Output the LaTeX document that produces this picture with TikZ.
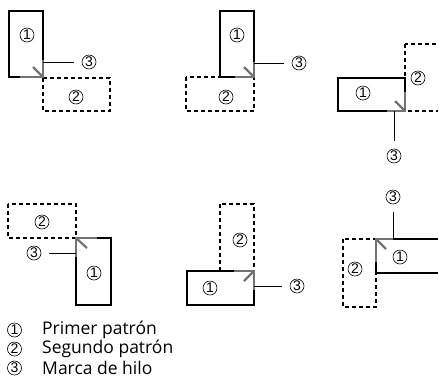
\documentclass[tikz,border=0pt]{standalone}
\usepackage{fontspec}
\setmainfont{Open Sans}
\newfontfamily\numfont{Liberation Sans}
\begin{document}
\begin{tikzpicture}[x=1pt,y=-1pt,
  solidbox/.style={draw=black,line width=1.1pt},
  dashbox/.style={draw=black,line width=1.1pt,dash pattern=on 4pt off 3pt},
  graymark/.style={draw=black!55,line width=2.2pt},
  num/.style={circle,draw=black,line width=0.6pt,minimum size=14pt,inner sep=0pt,font=\numfont\fontsize{14}{14}\selectfont},
  thread/.style={draw=black,line width=0.8pt,shorten >=8pt},
  legtext/.style={anchor=west,inner sep=0pt,font=\fontsize{17.5}{17.5}\selectfont}]
\useasboundingbox (0,0) rectangle (438,389);
\begin{scope}
\clip (0,0) rectangle (438,389);
% ---------- panel 1 ----------
\draw[dashbox] (43,78) rectangle (110,111);
\draw[solidbox] (9,11) rectangle (43,77);
\draw[graymark] (20,77) -- (43,77) -- (43,60);
\draw[graymark] (33,67) -- (43,77);
\node[num] (a1) at (27,35) {1};
\node[num] (a2) at (76,97) {2};
\node[num] (a3) at (89,62) {3};
\coordinate (pa) at (43,62);
\draw[thread] (pa) -- (a3);
% ---------- panel 2 ----------
\draw[dashbox] (186,77) rectangle (254,111);
\draw[solidbox] (220,11) rectangle (254,77);
\draw[graymark] (235,77) -- (254,77) -- (254,62);
\draw[graymark] (244,67) -- (254,77);
\node[num] (b1) at (237,35) {1};
\node[num] (b2) at (226,97) {2};
\node[num] (b3) at (299,63) {3};
\coordinate (pb) at (254,63);
\draw[thread] (pb) -- (b3);
% ---------- panel 3 ----------
\draw[dashbox] (405,44) rectangle (448,111);
\draw[solidbox] (338,78) rectangle (405,111);
\draw[graymark] (387,111) -- (405,111) -- (405,92);
\draw[graymark] (395,101) -- (405,111);
\node[num] (c1) at (363,93) {1};
\node[num] (c2) at (418,78) {2};
\node[num] (c3) at (394,156) {3};
\coordinate (pc) at (394,111);
\draw[thread] (pc) -- (c3);
% ---------- panel 4 ----------
\draw[dashbox] (8,204) rectangle (76,238);
\draw[solidbox] (76,238) rectangle (111,305);
\draw[graymark] (97,238) -- (76,238) -- (76,257);
\draw[graymark] (87,248) -- (76,238);
\node[num] (d1) at (94,273) {1};
\node[num] (d2) at (42,222) {2};
\node[num] (d3) at (34,253) {3};
\coordinate (pd) at (76,253);
\draw[thread] (pd) -- (d3);
% ---------- panel 5 ----------
\draw[dashbox] (220,204) rectangle (254,271);
\draw[solidbox] (187,271) rectangle (254,305);
\draw[graymark] (234,271) -- (254,271) -- (254,290);
\draw[graymark] (244,281) -- (254,271);
\node[num] (e1) at (210,288) {1};
\node[num] (e2) at (240,240) {2};
\node[num] (e3) at (297,286) {3};
\coordinate (pe) at (254,286);
\draw[thread] (pe) -- (e3);
% ---------- panel 6 ----------
\draw[dashbox] (343,239) rectangle (376,307);
\draw[solidbox] (376,239) rectangle (448,273);
\draw[graymark] (393,239) -- (376,239) -- (376,262);
\draw[graymark] (386,249) -- (376,239);
\node[num] (f1) at (400,257) {1};
\node[num] (f2) at (355,269) {2};
\node[num] (f3) at (393,197) {3};
\coordinate (pf) at (393,239);
\draw[thread] (pf) -- (f3);
\end{scope}
% ---------- legend ----------
\node[num] (l1) at (14.5,330) {1};
\node[num] (l2) at (14.5,349) {2};
\node[num] (l3) at (14.5,368) {3};
\node[legtext] (t1) at (42,330) {Primer patrón};
\node[legtext] (t2) at (42,349) {Segundo patrón};
\node[legtext] (t3) at (42,368) {Marca de hilo};
\end{tikzpicture}
\end{document}
